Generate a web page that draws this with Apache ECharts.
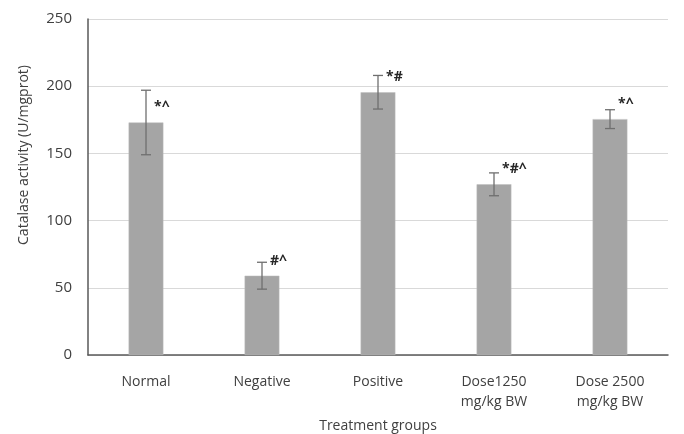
<!DOCTYPE html>
<html><head><meta charset="utf-8">
<script src="https://cdn.jsdelivr.net/npm/echarts@6/dist/echarts.min.js"></script>
<style>html,body{margin:0;padding:0;background:#fff}#c{width:684px;height:434px}</style>
</head><body><div id="c"></div>
<script>
const categories = ['Normal', 'Negative', 'Positive', 'Dose1250\nmg/kg BW', 'Dose 2500\nmg/kg BW'];
const means = [173, 59, 195.5, 127, 175.5];
const errors = [24, 10, 12.5, 8.5, 7];
const marks = ['*^', '#^', '*#', '*#^', '*^'];
const yTicks = { min: 0, max: 250, interval: 50 };

const FONT = 'Open Sans';
const chart = echarts.init(document.getElementById('c'));
chart.setOption({
  animation: false,
  grid: { left: 88, right: 16, top: 19, bottom: 79, containLabel: false, outerBoundsMode: 'none' },
  xAxis: {
    type: 'category', data: categories,
    axisLine: { lineStyle: { color: '#595959', width: 1.5 } },
    axisTick: { show: false },
    axisLabel: { color: '#404040', fontFamily: FONT, fontSize: 14, lineHeight: 20, margin: 17 },
    name: 'Treatment groups', nameLocation: 'middle', nameGap: 64,
    nameTextStyle: { color: '#404040', fontFamily: FONT, fontSize: 14 }
  },
  yAxis: {
    type: 'value', min: yTicks.min, max: yTicks.max, interval: yTicks.interval,
    axisLine: { show: true, lineStyle: { color: '#595959', width: 1.5 } },
    axisTick: { show: false },
    splitLine: { lineStyle: { color: '#d9d9d9', width: 1 } },
    axisLabel: { color: '#404040', fontFamily: FONT, fontSize: 15, margin: 16 }
  },
  graphic: [{
    type: 'text', x: 24, y: 155, rotation: Math.PI / 2,
    style: { text: 'Catalase activity (U/mgprot)', fill: '#404040', font: '14px "Open Sans"', align: 'center', verticalAlign: 'middle' }
  }],
  series: [{
    type: 'bar', data: means, barWidth: '30%',
    itemStyle: { color: '#a5a5a5', borderColor: '#bfbfbf', borderWidth: 0.5 }
  }, {
    type: 'custom',
    data: means.map((m, i) => [i, m, errors[i], marks[i]]),
    renderItem: function (params, api) {
      const i = api.value(0), m = api.value(1), e = api.value(2);
      const top = api.coord([i, m + e]);
      const bot = api.coord([i, m - e]);
      const mid = api.coord([i, m]);
      const x = top[0], cap = 5;
      const st = { stroke: '#6f6f6f', lineWidth: 1.3 };
      return {
        type: 'group', children: [
          { type: 'line', shape: { x1: x, y1: top[1], x2: x, y2: bot[1] }, style: st },
          { type: 'line', shape: { x1: x - cap, y1: top[1], x2: x + cap, y2: top[1] }, style: st },
          { type: 'line', shape: { x1: x - cap, y1: bot[1], x2: x + cap, y2: bot[1] }, style: st },
          { type: 'text', x: x + 8, y: mid[1] - 15,
            style: { text: marks[i], fill: '#262626', font: 'bold 14px "Open Sans"', align: 'left', verticalAlign: 'middle' } }
        ]
      };
    },
    z: 5
  }]
});
</script></body></html>
